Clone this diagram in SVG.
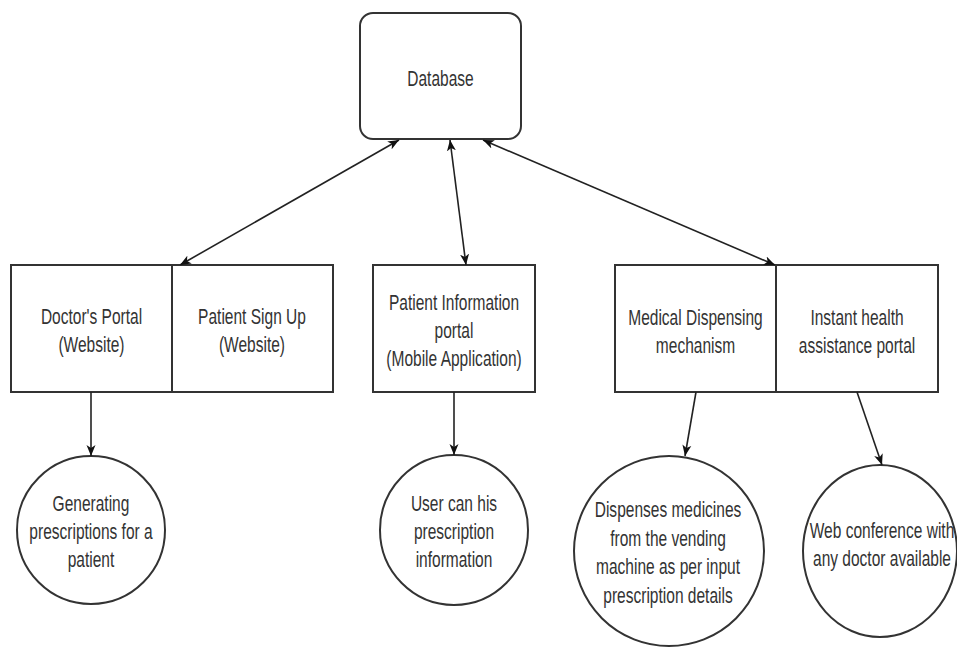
<svg xmlns="http://www.w3.org/2000/svg" width="957" height="648" viewBox="0 0 957 648">
<style>
.shape{fill:#fff;stroke:#333;stroke-width:2}
.lbl{font-family:"Liberation Sans",Arial,Helvetica,sans-serif;font-size:22.5px;fill:#333;text-anchor:middle}
.edge{fill:none;stroke:#222;stroke-width:1.6}
</style>
<defs>
<marker id="ah" markerUnits="userSpaceOnUse" markerWidth="12" markerHeight="10" refX="11" refY="4.5" orient="auto-start-reverse" viewBox="0 0 12 9">
<path d="M0,0 L11,4.5 L0,9 L3,4.5 z" fill="#111"/>
</marker>
</defs>
<rect x="0" y="0" width="957" height="648" fill="#fff"/>

<g id="database">
<rect class="shape" x="360" y="13" width="161" height="126" rx="13" ry="13"/>
<text class="lbl" transform="matrix(0.69 0 0 1 440.5 0)" x="0" y="86">Database</text>
</g>

<g id="doctors-portal">
<rect class="shape" x="11" y="265" width="161" height="127"/>
<text class="lbl" transform="matrix(0.69 0 0 1 91.5 0)"><tspan x="0" y="324">Doctor's Portal</tspan><tspan x="0" y="352">(Website)</tspan></text>
</g>

<g id="patient-signup">
<rect class="shape" x="172" y="265" width="161" height="127"/>
<text class="lbl" transform="matrix(0.69 0 0 1 252 0)"><tspan x="0" y="324">Patient Sign Up</tspan><tspan x="0" y="352">(Website)</tspan></text>
</g>

<g id="patient-info-portal">
<rect class="shape" x="373" y="265" width="162" height="127"/>
<text class="lbl" transform="matrix(0.69 0 0 1 454 0)"><tspan x="0" y="310">Patient Information</tspan><tspan x="0" y="338">portal</tspan><tspan x="0" y="366">(Mobile Application)</tspan></text>
</g>

<g id="medical-dispensing">
<rect class="shape" x="615" y="265" width="161" height="127"/>
<text class="lbl" transform="matrix(0.69 0 0 1 695.5 0)"><tspan x="0" y="325">Medical Dispensing</tspan><tspan x="0" y="353">mechanism</tspan></text>
</g>

<g id="instant-health">
<rect class="shape" x="776" y="265" width="162" height="127"/>
<text class="lbl" transform="matrix(0.69 0 0 1 857 0)"><tspan x="0" y="325">Instant health</tspan><tspan x="0" y="353">assistance portal</tspan></text>
</g>

<g id="generating-prescriptions">
<ellipse class="shape" cx="91" cy="530" rx="74" ry="74"/>
<text class="lbl" transform="matrix(0.69 0 0 1 91 0)"><tspan x="0" y="511">Generating</tspan><tspan x="0" y="539">prescriptions for a</tspan><tspan x="0" y="567">patient</tspan></text>
</g>

<g id="user-prescription">
<ellipse class="shape" cx="454" cy="530" rx="74" ry="75"/>
<text class="lbl" transform="matrix(0.69 0 0 1 454 0)"><tspan x="0" y="511">User can his</tspan><tspan x="0" y="539">prescription</tspan><tspan x="0" y="567">information</tspan></text>
</g>

<g id="dispenses-medicines">
<ellipse class="shape" cx="669" cy="551" rx="95" ry="95"/>
<text class="lbl" transform="matrix(0.69 0 0 1 668 0)"><tspan x="0" y="517">Dispenses medicines</tspan><tspan x="0" y="546">from the vending</tspan><tspan x="0" y="574">machine as per input</tspan><tspan x="0" y="603">prescription details</tspan></text>
</g>

<g id="web-conference">
<ellipse class="shape" cx="880" cy="551" rx="77" ry="86"/>
<text class="lbl" transform="matrix(0.69 0 0 1 882 0)"><tspan x="0" y="538">Web conference with</tspan><tspan x="0" y="566">any doctor available</tspan></text>
</g>

<g id="connectors">
<line class="edge" x1="399" y1="140" x2="180" y2="265" marker-start="url(#ah)" marker-end="url(#ah)"/>
<line class="edge" x1="450" y1="140" x2="466" y2="265" marker-start="url(#ah)" marker-end="url(#ah)"/>
<line class="edge" x1="483" y1="140" x2="775" y2="265" marker-start="url(#ah)" marker-end="url(#ah)"/>
<line class="edge" x1="91" y1="392" x2="91" y2="456" marker-end="url(#ah)"/>
<line class="edge" x1="454" y1="392" x2="454" y2="455" marker-end="url(#ah)"/>
<line class="edge" x1="696" y1="392" x2="685" y2="456" marker-end="url(#ah)"/>
<line class="edge" x1="857" y1="392" x2="882" y2="465" marker-end="url(#ah)"/>
</g>
</svg>
